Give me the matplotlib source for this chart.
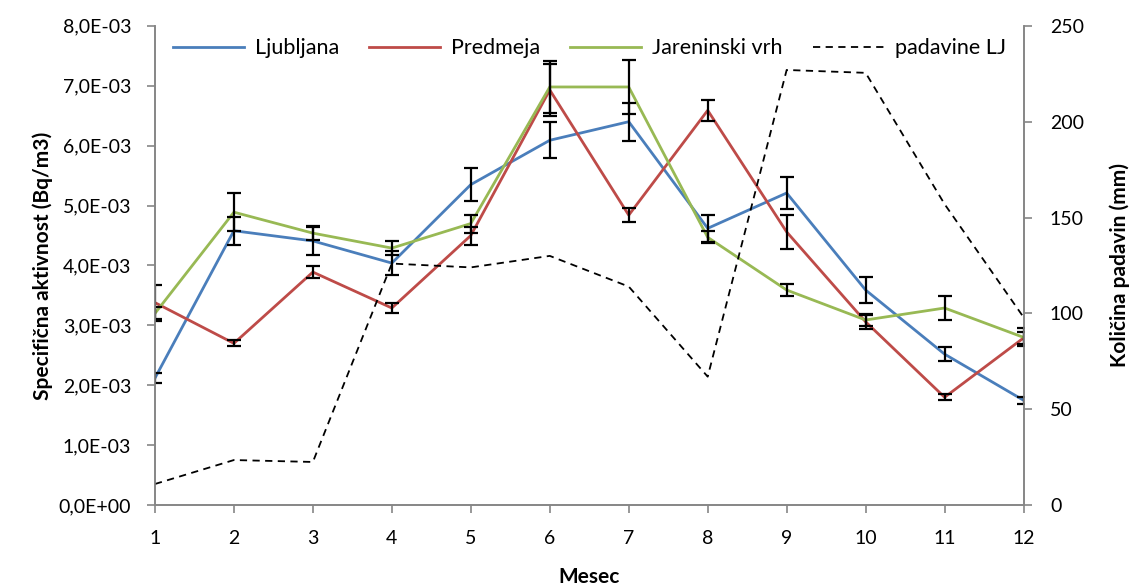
import matplotlib
matplotlib.use("Agg")
import matplotlib.pyplot as plt
import matplotlib.ticker as mticker

plt.rcParams['font.family'] = ['Lato', 'DejaVu Sans']

meseci = [1, 2, 3, 4, 5, 6, 7, 8, 9, 10, 11, 12]

# specificna aktivnost (x 1E-3 Bq/m3)
ljubljana = [2.12, 4.58, 4.41, 4.04, 5.35, 6.09, 6.40, 4.62, 5.21, 3.59, 2.52, 1.75]
ljubljana_err = [0.08, 0.23, 0.23, 0.20, 0.27, 0.30, 0.32, 0.23, 0.27, 0.22, 0.12, 0.06]
predmeja = [3.38, 2.70, 3.89, 3.29, 4.50, 6.93, 4.84, 6.59, 4.56, 3.06, 1.80, 2.79]
predmeja_err = [0.30, 0.05, 0.10, 0.09, 0.15, 0.43, 0.12, 0.18, 0.28, 0.12, 0.05, 0.10]
jareninski = [3.20, 4.89, 4.54, 4.29, 4.70, 6.98, 6.98, 4.47, 3.59, 3.09, 3.29, 2.80]
jareninski_err = [0.10, 0.32, 0.12, 0.12, 0.15, 0.44, 0.45, 0.10, 0.10, 0.10, 0.20, 0.15]

# padavine Ljubljana (mm)
padavine = [11, 23.5, 22.5, 126, 124, 130, 114, 67, 227, 225.5, 157, 98]

modra = '#4A7EBB'
rdeca = '#BE4B48'
zelena = '#98B954'
siva = '#868686'

fig = plt.figure(figsize=(11.31, 5.88), dpi=100)
ax = fig.add_axes([0.137, 0.141, 0.768, 0.815])
ax2 = ax.twinx()

serije = [
    (ljubljana, ljubljana_err, modra, 'Ljubljana'),
    (predmeja, predmeja_err, rdeca, 'Predmeja'),
    (jareninski, jareninski_err, zelena, 'Jareninski vrh'),
]
handles = []
for vals, err, barva, ime in serije:
    v = [x * 1e-3 for x in vals]
    e = [x * 1e-3 for x in err]
    ln, = ax.plot(meseci, v, color=barva, lw=2, label=ime, zorder=3)
    ax.errorbar(meseci, v, yerr=e, fmt='none', ecolor='black', elinewidth=1.6,
                capsize=5, capthick=1.6, zorder=4)
    handles.append(ln)

lp, = ax2.plot(meseci, padavine, color='black', lw=1.3, ls=(0, (4, 3)), label='padavine LJ')
handles.append(lp)

ax.set_xlim(1, 12)
ax.set_ylim(0, 8e-3)
ax2.set_ylim(0, 250)
ax.set_xticks(meseci)
ax.set_yticks([i * 1e-3 for i in range(9)])
ax2.set_yticks(range(0, 251, 50))
ax.yaxis.set_major_formatter(mticker.FuncFormatter(lambda x, _: f'{x:.1E}'.replace('.', ',')))

for a in (ax, ax2):
    for s in a.spines.values():
        s.set_color(siva)
        s.set_linewidth(1.2)
    a.spines['top'].set_visible(False)
    a.tick_params(colors=siva, labelcolor='black', labelsize=14, length=6, width=1.2)
ax.tick_params(axis='y', pad=11)
ax.tick_params(axis='x', pad=12)
ax2.tick_params(axis='y', pad=13)

ax.set_ylabel('Specifična aktivnost (Bq/m3)', fontsize=15, fontweight='bold', labelpad=4)
ax2.set_ylabel('Količina padavin (mm)', fontsize=15, fontweight='bold', labelpad=18)
ax.set_xlabel('Mesec', fontsize=15, fontweight='bold', labelpad=14)

ax2.legend(handles=handles, loc='upper center', bbox_to_anchor=(0.5, 1.015), ncol=4,
           frameon=False, fontsize=15.5, handlelength=3.3, handletextpad=0.5,
           columnspacing=1.4)

fig.savefig('out.png', dpi=100)
